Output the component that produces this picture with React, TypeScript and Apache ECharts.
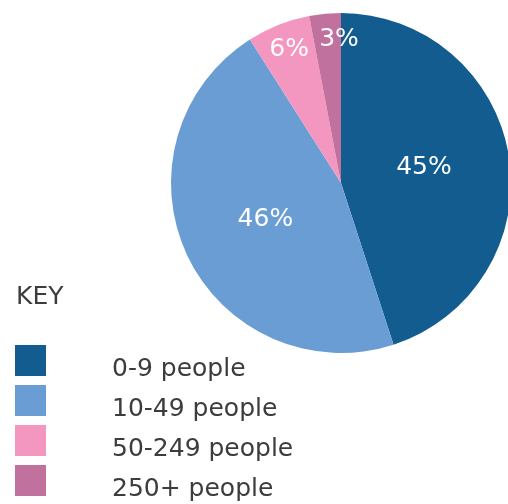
import React, { useEffect, useRef } from "react";
import * as echarts from "echarts";

const categories = ["0-9 people", "10-49 people", "50-249 people", "250+ people"];
const values = [45, 46, 6, 3];
const colors = ["#125c8f", "#6a9dd4", "#f497c0", "#c0719e"];
const keyTitle = "KEY";

export default function App() {
  const ref = useRef<HTMLDivElement>(null);
  useEffect(() => {
    const chart = echarts.init(ref.current!, null, { renderer: "svg" });
    const font = "'DejaVu Sans', sans-serif";
    const bigIdx = [0, 1];
    const bigOffsets = [[-4, -4], [4, -3], [0, 0], [0, 0]];
    const smallOffsets = [[0, 0], [0, 0], [3, 3], [12, 3]];
    chart.setOption({
      animation: false,
      color: colors,
      title: {
        text: keyTitle,
        left: 11,
        top: 278,
        textStyle: { fontFamily: font, fontSize: 25, fontWeight: "normal", color: "#3c3c3c" },
      },
      legend: {
        orient: "vertical",
        left: 15,
        top: 345,
        padding: 0,
        itemWidth: 31,
        itemHeight: 31,
        itemGap: 5,
        icon: "rect",
        data: categories,
        selectedMode: false,
        formatter: (name: string) => `{t|${name}}`,
        textStyle: {
          fontFamily: font,
          fontSize: 25,
          color: "#3c3c3c",
          padding: [0, 0, 0, 61],
          rich: {
            t: {
              fontFamily: font,
              fontSize: 25,
              color: "#3c3c3c",
              padding: [14, 0, 0, 0],
            },
          },
        },
      },
      series: [
        {
          type: "pie",
          center: [341, 183],
          radius: [0, 170],
          startAngle: 90,
          clockwise: true,
          silent: true,
          data: categories.map((c, i) => ({
            name: c,
            value: values[i],
            label: { show: bigIdx.includes(i), offset: bigOffsets[i] },
          })),
          label: {
            position: "inside",
            formatter: "{c}%",
            color: "#ffffff",
            fontFamily: font,
            fontSize: 25,
          },
          labelLine: { show: false },
        },
        {
          type: "pie",
          center: [341, 183],
          radius: [122, 170],
          startAngle: 90,
          clockwise: true,
          silent: true,
          itemStyle: { color: "rgba(0,0,0,0)" },
          data: categories.map((c, i) => ({
            name: c + " ",
            value: values[i],
            label: { show: !bigIdx.includes(i), offset: smallOffsets[i] },
          })),
          label: {
            position: "inside",
            formatter: "{c}%",
            color: "#ffffff",
            fontFamily: font,
            fontSize: 25,
          },
          labelLine: { show: false },
        },
      ],
    });
    return () => chart.dispose();
  }, []);
  return (
    <div
      ref={ref}
      style={{ position: "fixed", left: 0, top: 0, width: 508, height: 504 }}
    />
  );
}
